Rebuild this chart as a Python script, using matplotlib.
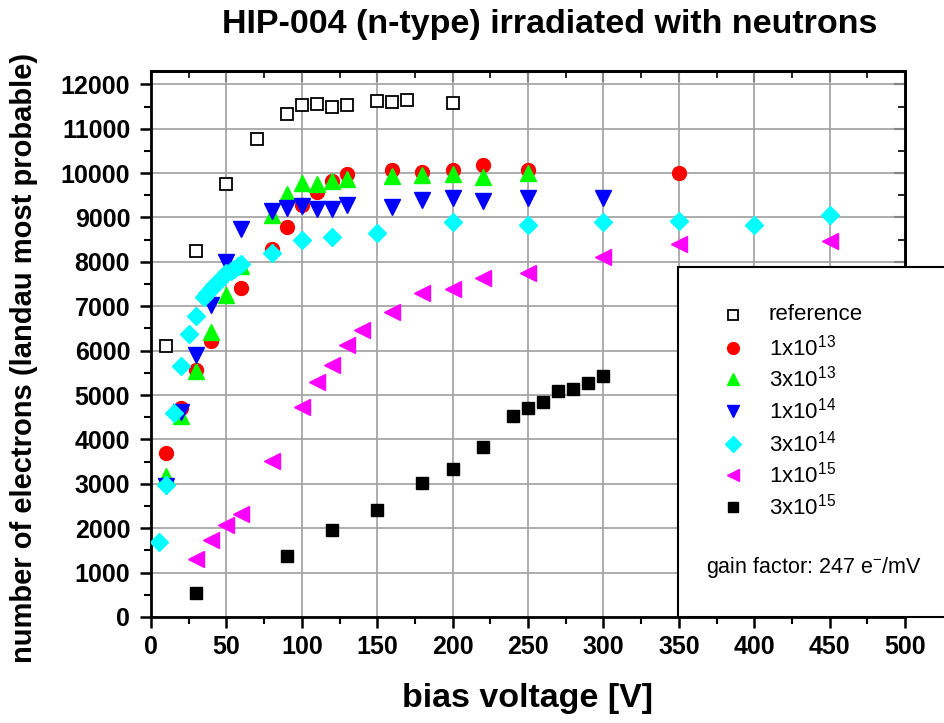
import matplotlib
matplotlib.use("Agg")
import matplotlib.pyplot as plt
from matplotlib.lines import Line2D
from matplotlib.patches import Rectangle
from matplotlib.ticker import MultipleLocator

plt.rcParams['font.family'] = ['Liberation Sans', 'DejaVu Sans']
plt.rcParams['mathtext.fontset'] = 'custom'
plt.rcParams['mathtext.rm'] = 'Liberation Sans'
plt.rcParams['mathtext.it'] = 'Liberation Sans'
plt.rcParams['mathtext.bf'] = 'Liberation Sans:bold'

# ---- data ----
volt_ref = [10, 30, 50, 70, 90, 100, 110, 120, 130, 150, 160, 170, 200]
ne_ref = [6100, 8250, 9750, 10770, 11330, 11530, 11550, 11480, 11530, 11620, 11610, 11650, 11590]

volt_1e13 = [10, 20, 30, 40, 60, 80, 90, 100, 110, 120, 130, 160, 180, 200, 220, 250, 350]
ne_1e13 = [3700, 4700, 5570, 6210, 7420, 8300, 8790, 9290, 9570, 9820, 9970, 10080, 10030, 10070, 10190, 10070, 10010]

volt_3e13 = [10, 20, 30, 40, 50, 60, 80, 90, 100, 110, 120, 130, 160, 180, 200, 220, 250]
ne_3e13 = [3170, 4530, 5540, 6410, 7260, 7900, 9060, 9540, 9780, 9760, 9820, 9860, 9930, 9950, 9990, 9920, 10000]

volt_1e14 = [10, 20, 30, 40, 50, 60, 80, 90, 100, 110, 120, 130, 160, 180, 200, 220, 250, 300]
ne_1e14 = [2950, 4620, 5900, 7020, 7990, 8730, 9140, 9220, 9260, 9200, 9200, 9290, 9240, 9400, 9430, 9380, 9440, 9450]

volt_3e14 = [5, 10, 15, 20, 25, 30, 35, 37, 40, 42, 45, 48, 50, 53, 55, 58, 60, 80, 100, 120, 150, 200, 250, 300, 350, 400, 450]
ne_3e14 = [1690, 2980, 4590, 5650, 6380, 6790, 7200, 7300, 7400, 7480, 7560, 7680, 7740, 7800, 7850, 7900, 7950, 8210, 8500, 8570, 8650, 8900, 8840, 8900, 8920, 8830, 9060]

volt_1e15 = [30, 40, 50, 60, 80, 100, 110, 120, 130, 140, 160, 180, 200, 220, 250, 300, 350, 450]
ne_1e15 = [1300, 1740, 2070, 2330, 3510, 4740, 5300, 5680, 6130, 6470, 6870, 7290, 7400, 7630, 7740, 8100, 8400, 8460]

volt_3e15 = [30, 90, 120, 150, 180, 200, 220, 240, 250, 260, 270, 280, 290, 300]
ne_3e15 = [540, 1380, 1970, 2400, 3020, 3340, 3840, 4530, 4710, 4850, 5100, 5130, 5280, 5420]

labels = ['reference', r'1x10$^{13}$', r'3x10$^{13}$', r'1x10$^{14}$',
          r'3x10$^{14}$', r'1x10$^{15}$', r'3x10$^{15}$']

series = [
    (volt_ref, ne_ref, dict(marker='s', mfc='white', mec='black', mew=1.3, ms=9)),
    (volt_1e13, ne_1e13, dict(marker='o', mfc='#ff0000', mec='#ff0000', ms=10)),
    (volt_3e13, ne_3e13, dict(marker='^', mfc='#00ff00', mec='#00ff00', ms=11)),
    (volt_1e14, ne_1e14, dict(marker='v', mfc='#0000ff', mec='#0000ff', ms=11)),
    (volt_3e14, ne_3e14, dict(marker='D', mfc='#00ffff', mec='#00ffff', ms=9)),
    (volt_1e15, ne_1e15, dict(marker='<', mfc='#ff00ff', mec='#ff00ff', ms=11)),
    (volt_3e15, ne_3e15, dict(marker='s', mfc='black', mec='black', ms=9)),
]

W, H = 944, 723
fig = plt.figure(figsize=(W / 100, H / 100), dpi=100)
ax = fig.add_axes([151 / W, 1 - 617 / H, (905 - 151) / W, (617 - 71) / H])

for x, y, st in series:
    ax.plot(x, y, ls='none', zorder=3, **st)

ax.set_xlim(0, 500)
ax.set_ylim(0, 12300)
ax.xaxis.set_major_locator(MultipleLocator(50))
ax.xaxis.set_minor_locator(MultipleLocator(25))
ax.yaxis.set_major_locator(MultipleLocator(1000))
ax.yaxis.set_minor_locator(MultipleLocator(500))
ax.grid(True, which='major', color='#a0a0a0', lw=1.2, zorder=0)
ax.set_axisbelow(True)

for s in ax.spines.values():
    s.set_linewidth(2)
ax.tick_params(which='major', direction='out', length=8, width=1.8,
               labelsize=18, pad=5)
ax.tick_params(which='minor', direction='out', length=5, width=1.5)
ax.tick_params(axis='y', which='major', pad=7)
for lab in ax.get_xticklabels() + ax.get_yticklabels():
    lab.set_fontweight('bold')

secx = ax.secondary_xaxis('top')
secx.xaxis.set_major_locator(MultipleLocator(50))
secx.xaxis.set_minor_locator(MultipleLocator(25))
secx.tick_params(which='major', direction='in', length=8, width=1.5, labeltop=False)
secx.tick_params(which='minor', direction='in', length=5, width=1.2)
secx.spines['top'].set_linewidth(2)
secy = ax.secondary_yaxis('right')
secy.yaxis.set_major_locator(MultipleLocator(1000))
secy.yaxis.set_minor_locator(MultipleLocator(500))
secy.tick_params(which='major', direction='in', length=8, width=1.5, labelright=False)
secy.tick_params(which='minor', direction='in', length=5, width=1.2)
secy.spines['right'].set_linewidth(2)

fig.text(550 / W, 1 - 25 / H, 'HIP-004 (n-type) irradiated with neutrons',
         ha='center', va='center', fontsize=24.5, fontweight='bold')
fig.text(528 / W, 1 - 699 / H, 'bias voltage [V]', ha='center', va='center',
         fontsize=24.5, fontweight='bold')
fig.text(24 / W, 1 - 358 / H, 'number of electrons (landau most probable)',
         ha='center', va='center', rotation=90, fontsize=21, fontweight='bold')

# legend box
rect = Rectangle((678 / W, 1 - 617 / H), 0.5, (617 - 267) / H,
                 transform=fig.transFigure, facecolor='white', edgecolor='black',
                 lw=1.5, zorder=10)
fig.add_artist(rect)
rows = [315, 348, 379, 411, 444, 475, 507]
for (x, y, st), lab, ry in zip(series, labels, rows):
    st2 = dict(st)
    st2['ms'] = st['ms'] * 0.85
    fig.add_artist(Line2D([733 / W], [1 - ry / H], transform=fig.transFigure,
                          ls='none', zorder=11, **st2))
    fig.text(769 / W, 1 - ry / H, lab, ha='left', va='center', fontsize=16, zorder=11)
fig.text(706 / W, 1 - 568 / H, r'gain factor: 247 e$^{-}$/mV', ha='left',
         va='center', fontsize=15.5, zorder=11)

fig.savefig('out.png', dpi=100)
